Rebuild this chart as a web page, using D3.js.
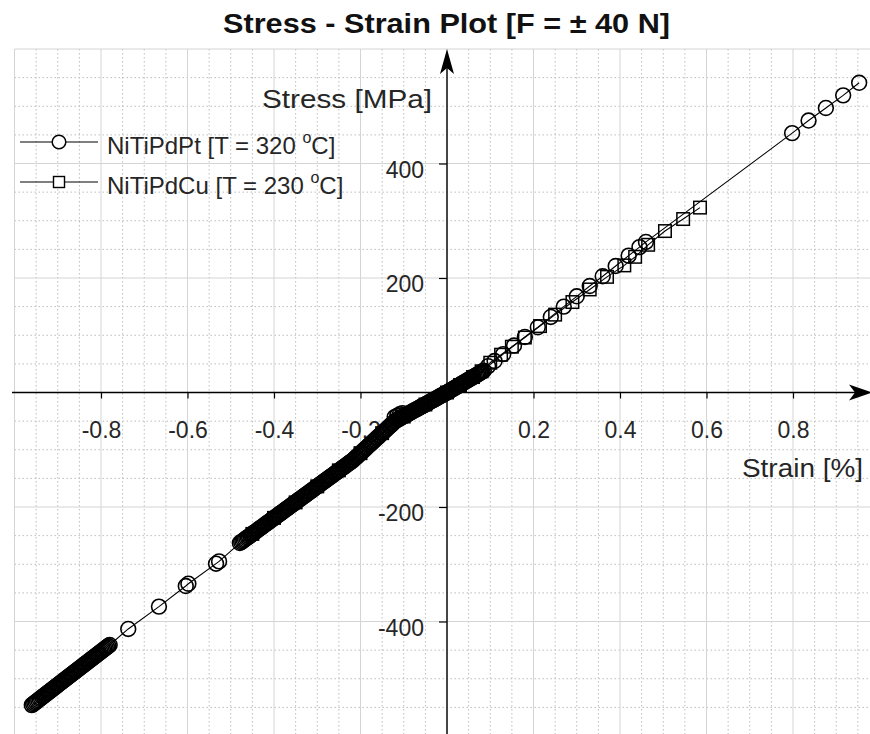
<!DOCTYPE html>
<html>
<head>
<meta charset="utf-8">
<script src="https://cdn.jsdelivr.net/npm/d3@7"></script>
<style>
  html, body { margin: 0; padding: 0; background: #fff; overflow: hidden; }
  text { font-family: "Liberation Sans", Arial, Helvetica, sans-serif; }
</style>
</head>
<body>
<svg id="chart" width="870" height="734"></svg>
<script>
// ---- data: [strain %, stress MPa] ----
// NiTiPdPt, T = 320 °C
const ptData = [
  // compressive end, densely sampled
  [-0.960,-546.0],[-0.957,-544.3],[-0.954,-542.5],[-0.951,-540.8],[-0.948,-539.0],[-0.945,-537.3],
  [-0.942,-535.5],[-0.939,-533.8],[-0.936,-532.0],[-0.933,-530.3],[-0.930,-528.5],[-0.927,-526.8],
  [-0.924,-525.0],[-0.921,-523.3],[-0.918,-521.5],[-0.915,-519.8],[-0.912,-518.0],[-0.909,-516.3],
  [-0.906,-514.5],[-0.903,-512.8],[-0.900,-511.0],[-0.897,-509.3],[-0.894,-507.5],[-0.891,-505.8],
  [-0.888,-504.0],[-0.885,-502.3],[-0.882,-500.5],[-0.879,-498.8],[-0.876,-497.0],[-0.873,-495.3],
  [-0.870,-493.5],[-0.867,-491.8],[-0.864,-490.0],[-0.861,-488.3],[-0.858,-486.5],[-0.855,-484.8],
  [-0.852,-483.0],[-0.849,-481.3],[-0.846,-479.5],[-0.843,-477.8],[-0.840,-476.0],[-0.837,-474.3],
  [-0.834,-472.5],[-0.831,-470.8],[-0.828,-469.0],[-0.825,-467.3],[-0.822,-465.5],[-0.819,-463.8],
  [-0.816,-462.0],[-0.813,-460.3],[-0.810,-458.5],[-0.807,-456.8],[-0.804,-455.0],[-0.801,-453.3],
  [-0.798,-451.5],[-0.795,-449.8],[-0.792,-448.0],[-0.789,-446.3],[-0.786,-444.5],[-0.783,-442.8],
  [-0.780,-441.0],
  // sparse samples
  [-0.737,-413.0],[-0.666,-374.0],[-0.604,-338.0],[-0.598,-334.0],[-0.534,-299.0],[-0.527,-295.0],
  // main compressive band
  [-0.479,-263.0],[-0.476,-261.3],[-0.473,-259.7],[-0.470,-258.0],[-0.467,-256.4],[-0.464,-254.7],
  [-0.461,-253.0],[-0.458,-251.4],[-0.455,-249.7],[-0.452,-248.1],[-0.449,-246.4],[-0.446,-244.8],
  [-0.443,-243.1],[-0.440,-241.4],[-0.437,-239.8],[-0.434,-238.1],[-0.431,-236.5],[-0.428,-234.8],
  [-0.425,-233.1],[-0.422,-231.5],[-0.419,-229.8],[-0.416,-228.2],[-0.413,-226.5],[-0.410,-224.8],
  [-0.407,-223.2],[-0.404,-221.5],[-0.401,-219.9],[-0.398,-218.2],[-0.395,-216.5],[-0.392,-214.9],
  [-0.389,-213.2],[-0.386,-211.6],[-0.383,-209.9],[-0.380,-208.3],[-0.377,-206.6],[-0.374,-204.9],
  [-0.371,-203.3],[-0.368,-201.6],[-0.365,-200.0],[-0.362,-198.3],[-0.359,-196.6],[-0.356,-195.0],
  [-0.353,-193.3],[-0.350,-191.7],[-0.347,-190.0],[-0.344,-188.3],[-0.341,-186.7],[-0.338,-185.0],
  [-0.335,-183.4],[-0.332,-181.7],[-0.329,-180.1],[-0.326,-178.4],[-0.323,-176.7],[-0.320,-175.1],
  [-0.317,-173.4],[-0.314,-171.8],[-0.311,-170.1],[-0.308,-168.4],[-0.305,-166.8],[-0.302,-165.1],
  [-0.299,-163.5],[-0.296,-161.8],[-0.293,-160.1],[-0.290,-158.5],[-0.287,-156.8],[-0.284,-155.2],
  [-0.281,-153.5],[-0.278,-151.8],[-0.275,-150.2],[-0.272,-148.5],[-0.269,-146.9],[-0.266,-145.2],
  [-0.263,-143.6],[-0.260,-141.9],[-0.257,-140.2],[-0.254,-138.6],[-0.251,-136.9],[-0.248,-135.3],
  [-0.245,-133.6],[-0.242,-131.9],[-0.239,-130.3],[-0.236,-128.6],[-0.233,-127.0],[-0.230,-125.3],
  [-0.227,-123.6],[-0.224,-122.0],[-0.221,-120.3],[-0.218,-118.7],
  // steeper stretch before the origin
  [-0.215,-116.6],[-0.212,-114.5],[-0.209,-112.4],[-0.206,-110.3],[-0.203,-108.2],[-0.200,-106.1],
  [-0.197,-104.0],[-0.194,-101.9],[-0.191,-99.8],[-0.188,-97.7],[-0.185,-95.6],[-0.182,-93.5],
  [-0.179,-91.4],[-0.176,-89.3],[-0.173,-87.2],[-0.170,-85.1],[-0.167,-83.0],[-0.164,-80.9],
  [-0.161,-78.8],[-0.158,-76.7],[-0.155,-74.6],[-0.152,-72.5],[-0.149,-70.4],[-0.146,-68.3],
  [-0.143,-66.2],[-0.140,-64.1],[-0.137,-62.0],[-0.134,-59.9],[-0.131,-57.8],[-0.128,-55.7],
  [-0.125,-53.6],[-0.122,-51.5],[-0.121,-43.0],[-0.119,-49.4],[-0.115,-40.5],[-0.109,-38.0],
  [-0.103,-36.0],
  // around the origin
  [-0.116,-48.2],[-0.113,-46.9],[-0.110,-45.7],[-0.107,-44.4],[-0.104,-43.2],[-0.101,-42.0],
  [-0.098,-40.7],[-0.095,-39.5],[-0.092,-38.2],[-0.089,-37.0],[-0.086,-35.7],[-0.083,-34.5],
  [-0.080,-33.2],[-0.077,-32.0],[-0.074,-30.7],[-0.071,-29.5],[-0.068,-28.2],[-0.065,-27.0],
  [-0.062,-25.7],[-0.059,-24.5],[-0.056,-23.3],[-0.053,-22.0],[-0.050,-20.8],[-0.047,-19.5],
  [-0.044,-18.3],[-0.041,-17.0],[-0.038,-15.8],[-0.035,-14.5],[-0.032,-13.3],[-0.029,-12.0],
  [-0.026,-10.8],[-0.023,-9.5],[-0.020,-8.3],[-0.017,-7.1],[-0.014,-5.8],[-0.011,-4.6],
  [-0.008,-3.3],[-0.005,-2.1],[-0.002,-0.8],[0.001,0.4],
  [0.004,1.8],[0.007,3.1],[0.010,4.5],[0.013,5.8],[0.016,7.2],[0.019,8.5],
  [0.022,9.8],[0.025,11.2],[0.028,12.5],[0.031,13.9],[0.034,15.2],[0.037,16.5],
  [0.040,17.9],[0.043,19.2],[0.046,20.6],[0.049,21.9],[0.052,23.2],[0.055,24.6],
  [0.058,25.9],[0.061,27.3],[0.064,28.6],[0.067,29.9],[0.070,31.3],[0.073,32.6],
  [0.076,34.0],[0.079,35.3],[0.082,36.7],[0.085,38.0],
  // tensile side
  [0.095,46],[0.110,55],[0.130,67],[0.155,82],[0.180,97],[0.210,114],[0.240,132],[0.270,150],
  [0.300,168],[0.330,186],[0.360,203],[0.390,221],[0.420,239],[0.445,254],[0.460,263],
  [0.798,453],[0.836,475],[0.876,497],[0.916,519],[0.953,541]
];

// NiTiPdCu, T = 230 °C
const cuData = [
  [-0.45,-247],[-0.40,-219],[-0.35,-192],[-0.30,-164],[-0.25,-136],[-0.20,-106],[-0.15,-71],
  [-0.10,-42],[-0.05,-21],[0.00,0],[0.03,13],[0.06,27],[0.08,37],
  [0.100,52],[0.125,66],[0.150,80],[0.180,96],[0.215,116],[0.250,136],[0.290,158],[0.330,180],
  [0.370,202],[0.410,222],[0.435,237],[0.465,258],[0.504,282],[0.546,303],[0.585,323]
];

const xTickVals = [-0.8, -0.6, -0.4, -0.2, 0.2, 0.4, 0.6, 0.8];
const yTickVals = [-400, -200, 200, 400];
const xDomain = [-1, 1];
const yDomain = [-600, 600];

const titleText = "Stress - Strain Plot [F = \u00B1 40 N]";
const xLabel = "Strain [%]";
const yLabel = "Stress [MPa]";
const legendItems = [
  { name: "NiTiPdPt [T = 320 ", unit: "C]", marker: "circle" },
  { name: "NiTiPdCu [T = 230 ", unit: "C]", marker: "square" }
];

// ---- drawing ----
const svg = d3.select("#chart");
const x = d3.scaleLinear().domain(xDomain).range([14.5, 879.5]);
const y = d3.scaleLinear().domain(yDomain).range([736, 49]);
const [xl, xr] = x.range();
const [yb, yt] = y.range();

const R = 7.4;       // circle marker radius
const SQ = 12.5;     // square marker side
const ink = "#000";
const txt = "#262626";

// grid: dotted minor lines, solid major lines
const grid = svg.append("g");
const majX = x.ticks(10), majY = y.ticks(6);
const isMajX = v => majX.some(m => Math.abs(m - v) < 1e-9);
const isMajY = v => majY.some(m => Math.abs(m - v) < 1e-9);

grid.selectAll("line.vmin").data(x.ticks(40).filter(v => !isMajX(v))).join("line")
  .attr("x1", d => x(d)).attr("x2", d => x(d)).attr("y1", yt).attr("y2", yb)
  .attr("stroke", "#bdbdbd").attr("stroke-width", 1).attr("stroke-dasharray", "1.5,2.5");
grid.selectAll("line.hmin").data(y.ticks(24).filter(v => !isMajY(v))).join("line")
  .attr("y1", d => y(d)).attr("y2", d => y(d)).attr("x1", xl).attr("x2", xr)
  .attr("stroke", "#bdbdbd").attr("stroke-width", 1).attr("stroke-dasharray", "1.5,2.5");
grid.selectAll("line.vmaj").data(majX).join("line")
  .attr("x1", d => x(d)).attr("x2", d => x(d)).attr("y1", yt).attr("y2", yb)
  .attr("stroke", "#d4d4d4").attr("stroke-width", 1);
grid.selectAll("line.hmaj").data(majY).join("line")
  .attr("y1", d => y(d)).attr("y2", d => y(d)).attr("x1", xl).attr("x2", xr)
  .attr("stroke", "#d4d4d4").attr("stroke-width", 1);

// axes through the origin
const ox = x(0), oy = y(0);
const axes = svg.append("g");
axes.append("line").attr("x1", 12).attr("x2", 858).attr("y1", oy).attr("y2", oy)
  .attr("stroke", ink).attr("stroke-width", 1.4);
axes.append("line").attr("x1", ox).attr("x2", ox).attr("y1", 62).attr("y2", 734)
  .attr("stroke", ink).attr("stroke-width", 1.4);
// arrow heads
axes.append("path")
  .attr("d", `M${ox},${yt} L${ox - 7},${yt + 25} L${ox},${yt + 19} L${ox + 7},${yt + 25} Z`)
  .attr("fill", ink);
axes.append("path")
  .attr("d", `M872,${oy} L849,${oy - 8} L855,${oy} L849,${oy + 8} Z`)
  .attr("fill", ink);

const xAxis = d3.axisBottom(x).tickValues(xTickVals).tickSize(6).tickSizeOuter(0)
  .tickFormat(d => String(d));
const gx = axes.append("g").attr("transform", `translate(0,${oy})`).call(xAxis);
gx.select(".domain").remove();
gx.selectAll(".tick line").attr("stroke", ink).attr("stroke-width", 1.2);
gx.selectAll(".tick text").attr("y", 45.5).attr("dy", null)
  .attr("fill", txt).style("font-size", "23px")
  .style("font-family", '"Liberation Sans", Arial, sans-serif');

const yAxis = d3.axisLeft(y).tickValues(yTickVals).tickSize(8).tickSizeOuter(0)
  .tickFormat(d => String(d));
const gy = axes.append("g").attr("transform", `translate(${ox},0)`).call(yAxis);
gy.select(".domain").remove();
gy.selectAll(".tick line").attr("stroke", ink).attr("stroke-width", 1.2);
gy.selectAll(".tick text").attr("x", -23).attr("y", 13.5).attr("dy", null)
  .attr("fill", txt).style("font-size", "23px")
  .style("font-family", '"Liberation Sans", Arial, sans-serif');

// axis labels
svg.append("text").attr("x", 262).attr("y", 108).text(yLabel)
  .attr("fill", txt).style("font-size", "26px")
  .attr("textLength", 170).attr("lengthAdjust", "spacingAndGlyphs");
svg.append("text").attr("x", 742).attr("y", 477).text(xLabel)
  .attr("fill", txt).style("font-size", "26px")
  .attr("textLength", 121).attr("lengthAdjust", "spacingAndGlyphs");

// series
const line = d3.line().x(d => x(d[0])).y(d => y(d[1]));
const plot = svg.append("g");
plot.append("path").datum(cuData).attr("d", line)
  .attr("fill", "none").attr("stroke", ink).attr("stroke-width", 1.1);
plot.append("path").datum(ptData).attr("d", line)
  .attr("fill", "none").attr("stroke", ink).attr("stroke-width", 1.1);

plot.append("g").selectAll("rect").data(cuData).join("rect")
  .attr("x", d => x(d[0]) - SQ / 2).attr("y", d => y(d[1]) - SQ / 2)
  .attr("width", SQ).attr("height", SQ)
  .attr("fill", "none").attr("stroke", ink).attr("stroke-width", 1.5);
plot.append("g").selectAll("circle").data(ptData).join("circle")
  .attr("cx", d => x(d[0])).attr("cy", d => y(d[1])).attr("r", R)
  .attr("fill", "none").attr("stroke", ink).attr("stroke-width", 1.6);

// legend
const leg = svg.append("g");
const rows = [142, 182];
legendItems.forEach((it, i) => {
  const ly = rows[i];
  leg.append("line").attr("x1", 20).attr("x2", 98).attr("y1", ly).attr("y2", ly)
    .attr("stroke", ink).attr("stroke-width", 1.2);
  if (it.marker === "circle") {
    leg.append("circle").attr("cx", 59).attr("cy", ly).attr("r", 6.8)
      .attr("fill", "#fff").attr("stroke", ink).attr("stroke-width", 1.5);
  } else {
    leg.append("rect").attr("x", 59 - 5.5).attr("y", ly - 5.5)
      .attr("width", 11).attr("height", 11)
      .attr("fill", "#fff").attr("stroke", ink).attr("stroke-width", 1.4);
  }
  const t = leg.append("text").attr("x", 107).attr("y", ly + 11.5)
    .attr("fill", txt).style("font-size", "24px");
  t.append("tspan").text(it.name);
  t.append("tspan").attr("dy", -11).style("font-size", "16px").text("o");
  t.append("tspan").attr("dy", 11).text(it.unit);
});

// title
svg.append("text").attr("x", 223).attr("y", 33).text(titleText)
  .attr("fill", "#111").style("font-size", "28px").style("font-weight", "bold")
  .attr("textLength", 447).attr("lengthAdjust", "spacingAndGlyphs");
</script>
</body>
</html>
